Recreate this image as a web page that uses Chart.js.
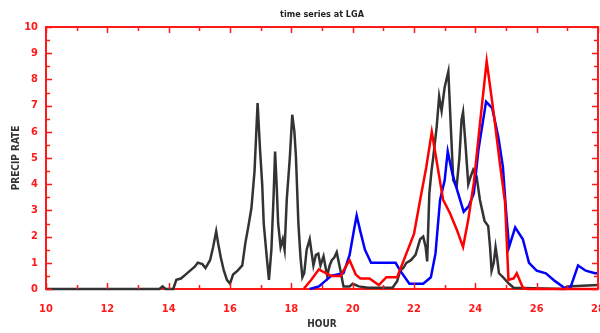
<!DOCTYPE html>
<html>
<head>
<meta charset="utf-8">
<script src="https://cdn.jsdelivr.net/npm/chart.js@4/dist/chart.umd.min.js"></script>
<style>
  html, body { margin: 0; padding: 0; background: #fff; }
  #wrap { width: 600px; height: 333px; }
</style>
</head>
<body>
<div id="wrap"><canvas id="precipChart" width="600" height="333"></canvas></div>
<script>
const chartTitle = 'time series at LGA';
const xTickValues = [10, 12, 14, 16, 18, 20, 22, 24, 26, 28];
const yTickValues = [0, 1, 2, 3, 4, 5, 6, 7, 8, 9, 10];

const blackHours = [10, 13.7, 13.8, 13.9, 14.15, 14.25, 14.4, 14.55, 14.7, 14.85, 14.95, 15.1, 15.2, 15.35, 15.45, 15.55, 15.62, 15.7, 15.8, 15.9, 16.0, 16.1, 16.25, 16.4, 16.5, 16.6, 16.7, 16.8, 16.9, 16.98, 17.05, 17.1, 17.2, 17.27, 17.35, 17.42, 17.47, 17.52, 17.57, 17.65, 17.72, 17.78, 17.85, 17.95, 18.03, 18.1, 18.15, 18.23, 18.3, 18.36, 18.42, 18.5, 18.6, 18.66, 18.72, 18.8, 18.88, 18.95, 19.05, 19.12, 19.17, 19.25, 19.32, 19.4, 19.48, 19.55, 19.62, 19.7, 19.9, 20.0, 20.2, 20.5, 21.3, 21.45, 21.55, 21.65, 21.75, 21.9, 22.05, 22.2, 22.3, 22.38, 22.43, 22.5, 22.57, 22.63, 22.74, 22.82, 22.9, 23.0, 23.12, 23.2, 23.28, 23.39, 23.48, 23.55, 23.6, 23.68, 23.77, 23.85, 23.93, 24.04, 24.15, 24.3, 24.42, 24.48, 24.53, 24.6, 24.66, 24.71, 24.77, 24.9, 25.1, 25.25, 26.9, 27.0, 28];
const blackRate = [0, 0, 0.1, 0, 0, 0.35, 0.4, 0.55, 0.7, 0.85, 1.0, 0.95, 0.8, 1.1, 1.6, 2.2, 1.7, 1.2, 0.7, 0.35, 0.2, 0.55, 0.7, 0.9, 1.75, 2.4, 3.1, 4.5, 7.1, 5.3, 4.0, 2.5, 1.2, 0.35, 1.5, 3.5, 5.25, 4.0, 2.5, 1.6, 1.9, 1.5, 3.4, 5.0, 6.65, 6.0, 5.05, 2.5, 1.2, 0.45, 0.6, 1.5, 1.9, 1.4, 0.9, 1.3, 1.35, 0.9, 1.25, 0.8, 0.5, 0.9, 1.1, 1.2, 1.4, 1.0, 0.6, 0.1, 0.1, 0.2, 0.1, 0.05, 0.05, 0.3, 0.7, 0.8, 1.0, 1.1, 1.3, 1.9, 2.0, 1.6, 1.05, 3.65, 4.5, 5.05, 6.2, 7.35, 6.8, 7.7, 8.3, 6.2, 4.15, 3.9, 5.0, 6.45, 6.75, 5.5, 4.0, 4.3, 4.55, 4.3, 3.4, 2.6, 2.4, 1.6, 0.7, 1.0, 1.6, 1.2, 0.6, 0.45, 0.2, 0.05, 0, 0.1, 0.15];

const redHours = [18.4, 18.65, 18.9, 19.05, 19.3, 19.6, 19.9, 20.1, 20.25, 20.55, 20.85, 21.1, 21.45, 21.75, 22.0, 22.2, 22.4, 22.58, 22.75, 22.95, 23.17, 23.4, 23.6, 23.77, 23.95, 24.15, 24.37, 24.6, 24.8, 24.97, 25.08, 25.25, 25.35, 25.55, 25.7, 28];
const redRate = [0, 0.35, 0.75, 0.65, 0.5, 0.5, 1.1, 0.55, 0.4, 0.4, 0.15, 0.45, 0.45, 1.35, 2.1, 3.4, 4.65, 6.0, 4.8, 3.4, 2.9, 2.25, 1.6, 2.65, 4.05, 6.3, 8.7, 6.7, 4.8, 3.3, 0.35, 0.4, 0.6, 0.05, 0, 0];

const blueHours = [18.6, 18.9, 19.1, 19.3, 19.5, 19.7, 19.9, 20.05, 20.13, 20.25, 20.4, 20.6, 21.4, 21.55, 21.85, 22.3, 22.55, 22.7, 22.85, 23.0, 23.1, 23.25, 23.4, 23.62, 23.78, 23.95, 24.1, 24.35, 24.55, 24.75, 24.9, 25.0, 25.1, 25.3, 25.55, 25.75, 26.0, 26.3, 26.6, 26.9, 27.1, 27.35, 27.6, 27.9, 28];
const blueRate = [0, 0.1, 0.3, 0.5, 0.55, 0.6, 1.3, 2.3, 2.8, 2.2, 1.5, 1.0, 1.0, 0.7, 0.2, 0.2, 0.45, 1.35, 3.4, 4.15, 5.25, 4.4, 3.8, 2.95, 3.15, 3.65, 5.3, 7.15, 6.9, 5.8, 4.65, 3.0, 1.6, 2.35, 1.9, 1.0, 0.7, 0.6, 0.3, 0.05, 0.05, 0.9, 0.7, 0.6, 0.6];

const toPoints = (xs, ys) => xs.map((x, i) => ({ x: x, y: ys[i] }));

const axisRed = '#ff1a1a';
const labelFont = "'DejaVu Sans Condensed', 'DejaVu Sans', sans-serif";

// box on top/right, inward tick marks and the title
const framePlugin = {
    id: 'frame',
    afterDraw(chart) {
        const ctx = chart.ctx;
        const area = chart.chartArea;
        const xs = chart.scales.x;
        const ys = chart.scales.y;
        ctx.save();
        ctx.strokeStyle = axisRed;
        ctx.lineWidth = 2;
        ctx.beginPath();
        ctx.moveTo(area.left, area.top);
        ctx.lineTo(area.right, area.top);
        ctx.lineTo(area.right, area.bottom);
        ctx.stroke();

        ctx.lineWidth = 1.5;
        ctx.beginPath();
        for (let h = xs.min; h <= xs.max; h += 1) {
            const px = Math.round(xs.getPixelForValue(h)) + 0.5;
            const len = h % 2 === 0 ? 6 : 4;
            ctx.moveTo(px, area.bottom);
            ctx.lineTo(px, area.bottom - len);
            ctx.moveTo(px, area.top);
            ctx.lineTo(px, area.top + len);
        }
        for (let v = ys.min; v <= ys.max; v += 0.5) {
            const py = Math.round(ys.getPixelForValue(v)) + 0.5;
            const len = v % 1 === 0 ? 6 : 4;
            ctx.moveTo(area.left, py);
            ctx.lineTo(area.left + len, py);
            ctx.moveTo(area.right, py);
            ctx.lineTo(area.right - len, py);
        }
        ctx.stroke();

        ctx.fillStyle = '#222';
        ctx.font = "bold 9px " + labelFont;
        ctx.textAlign = 'center';
        ctx.textBaseline = 'middle';
        ctx.fillText(chartTitle, (area.left + area.right) / 2, 15);
        ctx.restore();
    }
};

const ctx = document.getElementById('precipChart').getContext('2d');

new Chart(ctx, {
    type: 'line',
    data: {
        datasets: [
            {
                label: 'red',
                data: toPoints(redHours, redRate),
                borderColor: '#ff0000',
                borderWidth: 2.5,
                pointRadius: 0,
                tension: 0,
                clip: false,
                order: 1
            },
            {
                label: 'blue',
                data: toPoints(blueHours, blueRate),
                borderColor: '#0000ff',
                borderWidth: 2.5,
                pointRadius: 0,
                tension: 0,
                clip: false,
                order: 2
            },
            {
                label: 'black',
                data: toPoints(blackHours, blackRate),
                borderColor: '#333333',
                borderWidth: 2.5,
                pointRadius: 0,
                tension: 0,
                clip: false,
                order: 3
            }
        ]
    },
    options: {
        responsive: false,
        animation: false,
        layout: { padding: { top: 27, right: 2, left: 0, bottom: 0 } },
        plugins: {
            legend: { display: false },
            tooltip: { enabled: false },
            title: { display: false }
        },
        scales: {
            x: {
                type: 'linear',
                min: 10,
                max: 28,
                afterFit: (scale) => {
                    scale.height = 44;
                    scale.paddingLeft = 0;
                    scale.paddingRight = 0;
                },
                afterBuildTicks: (scale) => { scale.ticks = xTickValues.map(v => ({ value: v })); },
                grid: { display: false, drawTicks: false },
                border: { display: true, color: axisRed, width: 2 },
                ticks: {
                    color: axisRed,
                    padding: 14,
                    maxRotation: 0,
                    autoSkip: false,
                    font: { family: labelFont, size: 11, weight: 'bold' }
                },
                title: {
                    display: true,
                    text: 'HOUR',
                    color: '#333',
                    padding: { top: 0, bottom: 3 },
                    font: { family: labelFont, size: 10, weight: 'bold' }
                }
            },
            y: {
                min: 0,
                max: 10,
                afterFit: (scale) => {
                    scale.width = 46;
                    scale.paddingTop = 0;
                    scale.paddingBottom = 0;
                },
                afterBuildTicks: (scale) => { scale.ticks = yTickValues.map(v => ({ value: v })); },
                grid: { display: false, drawTicks: false },
                border: { display: true, color: axisRed, width: 2 },
                ticks: {
                    color: axisRed,
                    padding: 8,
                    autoSkip: false,
                    font: { family: labelFont, size: 11, weight: 'bold' }
                },
                title: {
                    display: true,
                    text: 'PRECIP RATE',
                    color: '#333',
                    padding: { top: 10, bottom: 0 },
                    font: { family: labelFont, size: 10, weight: 'bold' }
                }
            }
        }
    },
    plugins: [framePlugin]
});
</script>
</body>
</html>
